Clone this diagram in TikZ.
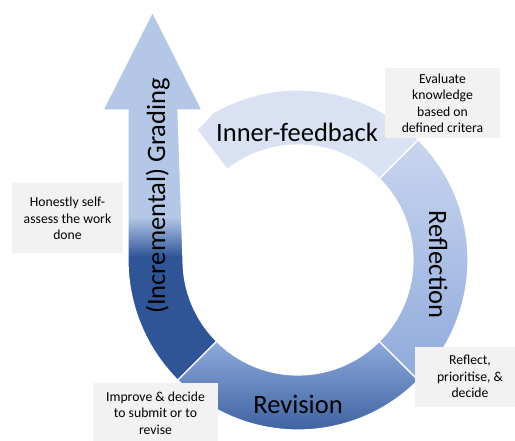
\documentclass[tikz,border=0pt]{standalone}
\usepackage{fontspec}
\setmainfont{Carlito}
\usetikzlibrary{calc}
\definecolor{ifblue}{HTML}{D9E1F2}
\definecolor{refltop}{HTML}{C9D5EE}
\definecolor{midblue}{HTML}{8FAADC}
\definecolor{darkblue}{HTML}{2F5597}
\definecolor{arrowlight}{HTML}{B4C7E7}
\definecolor{notegray}{HTML}{F2F2F2}
\tikzset{
  segment/.style={draw=white, line width=1.2pt, line join=miter},
  biglabel/.style={font=\fontsize{26.5}{32}\selectfont, text=black, inner sep=0pt},
  note/.style={fill=notegray, align=center, inner sep=0pt, text=black,
    font=\fontsize{13.7}{16.5}\selectfont},
}
% ring radii
\def\outerR{170}
\def\innerR{115}
% the rising arrow: lower-left quarter of the ring turning into a shaft
\newcommand\gradingarrow{($(C)+(225:\innerR)$) -- ($(C)+(225:\outerR)$)
  arc[start angle=225, end angle=180, radius=\outerR] -- (128,330) -- (103,330)
  -- (152.5,428) -- (202,330) -- (178,330) -- ($(C)+(180:\innerR)$)
  arc[start angle=180, end angle=225, radius=\innerR] -- cycle}
\begin{document}
\begin{tikzpicture}[x=1pt,y=1pt]
\useasboundingbox (0,0) rectangle (515,440);
\clip (0,0) rectangle (515,440);
\coordinate (C) at (298,180);

% arrow with dark base and light upper part
\begin{scope}
  \clip \gradingarrow;
  \fill[arrowlight] (90,0) rectangle (230,440);
  \shade[bottom color=darkblue, top color=arrowlight] (90,183) rectangle (230,223);
  \fill[darkblue] (90,0) rectangle (230,183.5);
\end{scope}
\draw[white, line width=1.2pt] \gradingarrow;

% Revision segment
\shade[segment, top color=midblue, bottom color=darkblue]
  ($(C)+(-135:\outerR)$) arc[start angle=-135, end angle=-45, radius=\outerR]
  -- ($(C)+(-45:\innerR)$) arc[start angle=-45, end angle=-135, radius=\innerR] -- cycle;

% Reflection segment
\shade[segment, top color=refltop, bottom color=midblue]
  ($(C)+(-45:\outerR)$) arc[start angle=-45, end angle=45, radius=\outerR]
  -- ($(C)+(45:\innerR)$) arc[start angle=45, end angle=-45, radius=\innerR] -- cycle;

% Inner-feedback segment with pointed end
\path[segment, fill=ifblue]
  ($(C)+(45:\outerR)$) arc[start angle=45, end angle=120, radius=\outerR]
  -- (197,310) -- ($(C)+(128:\innerR)$)
  arc[start angle=128, end angle=45, radius=\innerR] -- cycle;

% segment labels
\node[biglabel, anchor=base] (ifl) at (297,298.3) {Inner-feedback};
\node[biglabel, anchor=base, rotate=-90] (refl) at (429,175.3) {Reflection};
\node[biglabel, anchor=base] (rev) at (298,27) {Revision};
\node[biglabel, anchor=base, rotate=90] (grad) at (165,244) {(Incremental) Grading};

% notes
\node[note, minimum width=115pt, minimum height=70pt] (n1) at (442.5,336.7)
  {Evaluate\\knowledge\\based on\\defined critera};
\node[note, minimum width=111pt, minimum height=70pt] (n2) at (67.5,221.7)
  {Honestly self-\\assess the work\\done};
\node[note, minimum width=125pt, minimum height=60pt] (n3) at (155.5,27)
  {Improve \& decide\\to submit or to\\revise};
\node[note, minimum width=110pt, minimum height=60pt] (n4) at (470,63.3)
  {Reflect,\\prioritise, \&\\decide};
\end{tikzpicture}
\end{document}
